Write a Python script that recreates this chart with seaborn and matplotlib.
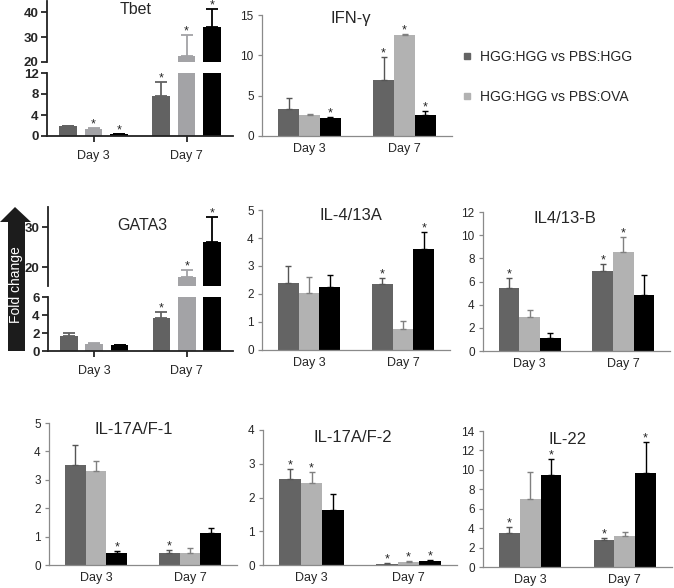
import numpy as np
import pandas as pd
import matplotlib
matplotlib.use('Agg')
import matplotlib.pyplot as plt
import seaborn as sns
from matplotlib.lines import Line2D
from matplotlib.patches import Polygon

days = ['Day 3', 'Day 7']
groups = ['HGG:HGG vs PBS:HGG', 'HGG:HGG vs PBS:OVA', 'third comparison']

# values ordered Day 3 (g1, g2, g3), Day 7 (g1, g2, g3)
tbet_mean = [1.85, 1.35, 0.3, 7.6, 22.3, 33.9]
tbet_err = [0.1, 0.08, 0.05, 2.6, 8.6, 7.2]
tbet_sig = [0, 1, 1, 1, 1, 1]

ifng_mean = [3.3, 2.65, 2.2, 6.9, 12.55, 2.55]
ifng_err = [1.4, 0.1, 0.15, 2.85, 0.12, 0.5]
ifng_sig = [0, 0, 1, 1, 1, 1]

gata3_mean = [1.65, 0.8, 0.65, 3.7, 17.4, 26.2]
gata3_err = [0.4, 0.07, 0.05, 0.6, 1.8, 6.2]
gata3_sig = [0, 0, 0, 1, 1, 1]

il413a_mean = [2.38, 2.02, 2.24, 2.36, 0.75, 3.6]
il413a_err = [0.62, 0.6, 0.44, 0.22, 0.3, 0.6]
il413a_sig = [0, 0, 0, 1, 0, 1]

il413b_mean = [5.47, 2.9, 1.12, 6.88, 8.55, 4.86]
il413b_err = [0.86, 0.6, 0.43, 0.6, 1.32, 1.67]
il413b_sig = [1, 0, 0, 1, 1, 0]

il17f1_mean = [3.53, 3.32, 0.41, 0.42, 0.41, 1.14]
il17f1_err = [0.68, 0.33, 0.08, 0.11, 0.2, 0.18]
il17f1_sig = [0, 0, 1, 1, 0, 0]

il17f2_mean = [2.54, 2.44, 1.63, 0.03, 0.09, 0.12]
il17f2_err = [0.3, 0.31, 0.46, 0.02, 0.03, 0.03]
il17f2_sig = [1, 1, 0, 1, 1, 1]

il22_mean = [3.53, 7.03, 9.5, 2.75, 3.19, 9.68]
il22_err = [0.59, 2.75, 1.58, 0.27, 0.41, 3.19]
il22_sig = [1, 0, 1, 1, 0, 1]

sns.set_style('white')
plt.rcParams['font.family'] = ['Liberation Sans', 'DejaVu Sans']

W, H = 674, 588
fig = plt.figure(figsize=(W / 100, H / 100), dpi=100)

prism_col = ['#626262', '#a3a3a6', '#000000']
excel_col = ['#646464', '#b2b2b2', '#000000']
excel_errcol = ['#555555', '#808080', '#000000']


def pix_axes(x0, x1, y0, y1):
    return fig.add_axes([x0 / W, 1 - y1 / H, (x1 - x0) / W, (y1 - y0) / H])


def bars(ax, mean, err, sig, style):
    df = pd.DataFrame({'day': np.repeat(days, 3), 'group': groups * 2, 'value': mean})
    if style == 'prism':
        cols, ecols, width, gap, cap, lw = prism_col, prism_col, 0.82, 0.3, 4.5, 1.3
    else:
        cols, ecols, width, gap, cap, lw = excel_col, excel_errcol, 0.66, 0, 2.5, 1.0
    sns.barplot(data=df, x='day', y='value', hue='group', order=days, hue_order=groups,
                palette=cols, width=width, gap=gap, errorbar=None, legend=False,
                saturation=1, linewidth=0, ax=ax)
    bar_conts = list(ax.containers)
    for h, cont in enumerate(bar_conts):
        for d, bar in enumerate(cont):
            i = d * 3 + h
            xc = bar.get_x() + bar.get_width() / 2
            top = bar.get_height()
            ax.errorbar(xc, top, yerr=[[0], [err[i]]], fmt='none', ecolor=ecols[h],
                        elinewidth=lw, capsize=cap, capthick=lw)
            if sig[i]:
                ax.annotate('*', xy=(xc, top + err[i]), xytext=(0, 0.5),
                            textcoords='offset points', ha='center', va='baseline',
                            fontsize=9)
    ax.set_xlabel('')
    ax.set_ylabel('')
    ax.set_xlim(-0.5, 1.5)


def excel_panel(x0, x1, y0, y1, mean, err, sig, ymax, step, title, tx, ty):
    ax = pix_axes(x0, x1, y0, y1)
    bars(ax, mean, err, sig, 'excel')
    ax.set_ylim(0, ymax)
    ax.set_yticks(np.arange(0, ymax + 0.01, step))
    ax.set_yticklabels([f'{v:g}' for v in np.arange(0, ymax + 0.01, step)])
    sns.despine(ax=ax)
    for s in ['left', 'bottom']:
        ax.spines[s].set_color('#8a8a8a')
        ax.spines[s].set_linewidth(0.9)
    ax.set_xticks([0, 1])
    ax.set_xticks([-0.5, 0.5, 1.5], minor=True)
    ax.tick_params(axis='x', which='major', length=0, pad=5, labelsize=9)
    ax.tick_params(axis='x', which='minor', length=4, width=0.9, color='#8a8a8a', direction='out')
    ax.tick_params(axis='y', length=3, width=0.9, color='#8a8a8a', direction='out',
                   labelsize=8.5, pad=3, left=True)
    fig.text(tx / W, 1 - ty / H, title, ha='center', va='center', fontsize=12)
    return ax


def prism_panel(x0, x1, up, lo, mean, err, sig, upl, lol, upt, lot, title, tx, ty):
    axu = pix_axes(x0, x1, up[0], up[1])
    axl = pix_axes(x0, x1, lo[0], lo[1])
    for ax in (axu, axl):
        bars(ax, mean, err, sig, 'prism')
        sns.despine(ax=ax)
        ax.spines['left'].set_linewidth(1.3)
        ax.spines['left'].set_color('#222222')
        ax.tick_params(axis='y', length=4, width=1.3, direction='out', labelsize=9.5,
                       pad=2, left=True)
    axu.set_ylim(*upl)
    axl.set_ylim(*lol)
    axu.set_yticks(upt)
    axl.set_yticks(lot)
    for ax in (axu, axl):
        ax.set_yticklabels([str(v) for v in ax.get_yticks().astype(int)], fontweight='bold')
    axu.spines['bottom'].set_visible(False)
    axu.set_xticks([])
    axl.spines['bottom'].set_linewidth(1.3)
    axl.spines['bottom'].set_color('#222222')
    axl.set_xticks([0, 1])
    axl.tick_params(axis='x', length=4, width=1.3, direction='out', labelsize=9, pad=6,
                    bottom=True)
    fig.text(tx / W, 1 - ty / H, title, ha='center', va='center', fontsize=11.5)


prism_panel(47, 233, (1, 62), (73, 136), tbet_mean, tbet_err, tbet_sig,
            (20, 44.5), (0, 12), [20, 30, 40], [0, 4, 8, 12], 'Tbet', 136, 10)
excel_panel(262, 452, 15, 136, ifng_mean, ifng_err, ifng_sig, 15, 5, 'IFN-γ', 351, 18)

prism_panel(48, 233, (207, 286), (297, 351), gata3_mean, gata3_err, gata3_sig,
            (15.25, 35), (0, 6), [20, 30], [0, 2, 4, 6], 'GATA3', 142, 225)
excel_panel(262, 450, 210, 350, il413a_mean, il413a_err, il413a_sig, 5, 1, 'IL-4/13A', 351, 215)
excel_panel(483, 670, 212, 351, il413b_mean, il413b_err, il413b_sig, 12, 2, 'IL4/13-B', 565, 218)

excel_panel(49, 237, 423, 565, il17f1_mean, il17f1_err, il17f1_sig, 5, 1, 'IL-17A/F-1', 134, 430)
excel_panel(263, 457, 430, 565, il17f2_mean, il17f2_err, il17f2_sig, 4, 1, 'IL-17A/F-2', 353, 437)
excel_panel(483, 672, 431, 567, il22_mean, il22_err, il22_sig, 14, 2, 'IL-22', 568, 439)

# legend (only the first two comparisons are labelled in the original)
handles = [Line2D([], [], marker='s', linestyle='', color=excel_col[k], markersize=5)
           for k in range(2)]
fig.legend(handles, groups[:2], loc='upper left', bbox_to_anchor=(461 / W, 1 - 50 / H),
           frameon=False, fontsize=10, handlelength=0.8, handletextpad=0.6,
           labelspacing=1.88, borderpad=0, borderaxespad=0)

# "Fold change" arrow
pts = [(15, 207), (31, 222), (25, 222), (25, 351), (8, 351), (8, 222), (0, 222)]
fig.add_artist(Polygon([(x / W, 1 - y / H) for x, y in pts], closed=True,
                       transform=fig.transFigure, color='#1c1c1c', lw=0))
fig.text(16.5 / W, 1 - 285 / H, 'Fold change', rotation=90, color='white',
         ha='center', va='center', fontsize=10)

fig.savefig('out.png', dpi=100)
